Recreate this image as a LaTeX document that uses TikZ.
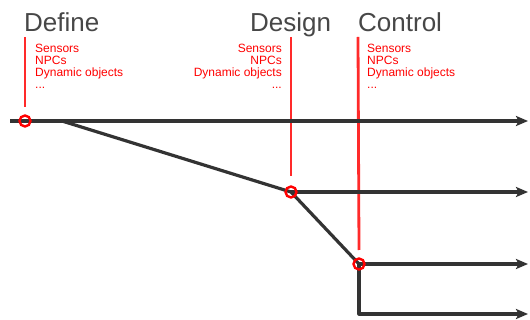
\documentclass[tikz,border=0pt]{standalone}
\usepackage{fontspec}
\setmainfont{Liberation Sans}
\usepackage{xcolor}
\usetikzlibrary{positioning,calc,arrows.meta}

\definecolor{flowgray}{HTML}{333333}
\definecolor{markred}{HTML}{FF2A2A}

\tikzset{
    flow/.style={draw=flowgray, line width=3.2pt, -{Stealth[length=12pt,width=10pt,inset=2.5pt]}},
    flowline/.style={draw=flowgray, line width=3.2pt, line join=round},
    tick/.style={draw=markred, line width=2.8pt},
    marker/.style={circle, draw=red, line width=2.4pt, minimum size=11pt, inner sep=0pt},
    stage/.style={text=flowgray!90, font=\fontsize{26}{28}\selectfont, inner sep=0pt, anchor=base west},
    items/.style={text=red, font=\fontsize{12}{12}\selectfont, inner sep=0pt}
}

\begin{document}
\begin{tikzpicture}[x=1pt, y=-1pt]
    \useasboundingbox (0,0) rectangle (530,320);

    % Branch points
    \coordinate (pdefine) at (25,121);
    \coordinate (psplit) at (62,121);
    \coordinate (pdesign) at (291,192);
    \coordinate (pcontrol) at (359,264);

    % Stage titles
    \node[stage] (define) at (24,32) {Define};
    \node[stage] (design) at (250,32) {Design};
    \node[stage] (control) at (358,32) {Control};

    % Object lists
    \node[items, anchor=north west, align=left] (deflist) at (35,43.5) {Sensors\\NPCs\\Dynamic objects\\...};
    \node[items, anchor=north east, align=right] (deslist) at (282,43.5) {Sensors\\NPCs\\Dynamic objects\\...};
    \node[items, anchor=north west, align=left] (conlist) at (367,43.5) {Sensors\\NPCs\\Dynamic objects\\...};

    % Red markers down to the timeline
    \draw[tick] (25,37) -- ([yshift=14pt]pdefine);
    \draw[tick] (291,37) -- ([yshift=16pt]pdesign);
    \draw[tick] (358,37) -- ([yshift=14pt]pcontrol);

    % Timelines
    \draw[flow] (10,121) -- (528,121);
    \draw[flowline] (psplit) -- (pdesign) -- (pcontrol);
    \draw[flow] (pdesign) -- (528,192);
    \draw[flow] (pcontrol) -- (528,264);
    \draw[flow, line join=round] (pcontrol) -- (359,314) -- (528,314);

    % Circles on top
    \node[marker] (mdefine) at (pdefine) {};
    \node[marker] (mdesign) at (pdesign) {};
    \node[marker] (mcontrol) at (pcontrol) {};
\end{tikzpicture}
\end{document}
